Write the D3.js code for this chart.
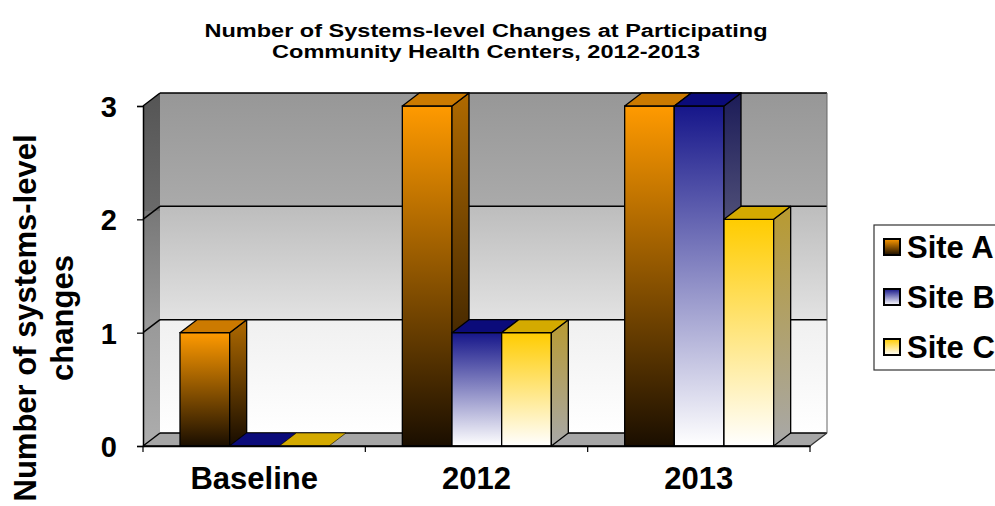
<!DOCTYPE html>
<html><head><meta charset="utf-8">
<script src="https://cdn.jsdelivr.net/npm/d3@7"></script>
<style>
body{margin:0;background:#fff;}
svg{display:block;font-family:"Liberation Sans",Arial,sans-serif;}
</style>
</head><body>
<svg id="chart" width="995" height="506"></svg>
<script>
const categories = ["Baseline", "2012", "2013"];
const seriesNames = ["Site A", "Site B", "Site C"];
const siteA = [1, 3, 3];
const siteB = [0, 1, 3];
const siteC = [0, 1, 2];
const yTicks = [0, 1, 2, 3];
const titleLines = ["Number of Systems-level Changes at Participating", "Community Health Centers, 2012-2013"];
const yTitleLines = ["Number of systems-level", "changes"];

const seriesValues = [siteA, siteB, siteC];
const styles = {
  "Site A": {frontTop: "#ff9a00", frontBot: "#1a0e00", sideTop: "#b06a00", sideBot: "#170c00", top: "#cc7a00"},
  "Site B": {frontTop: "#16168a", frontBot: "#ffffff", sideTop: "#1c1c58", sideBot: "#a8a8b0", top: "#0b0b7a"},
  "Site C": {frontTop: "#ffcc00", frontBot: "#ffffff", sideTop: "#b89a30", sideBot: "#a8a8a8", top: "#d4aa00"}
};

const svg = d3.select("#chart");
const DX = 17, DY = -13;
const x = d3.scaleBand().domain(categories).range([143, 810]);
const xs = d3.scaleBand().domain(seriesNames).range([37, 186]);
const y = d3.scaleLinear().domain([0, 3]).range([446, 106]);

const defs = svg.append("defs");
function vgrad(id, stops) {
  const g = defs.append("linearGradient").attr("id", id)
    .attr("x1", 0).attr("y1", 0).attr("x2", 0).attr("y2", 1);
  stops.forEach(s => g.append("stop").attr("offset", s[0]).attr("stop-color", s[1]));
}
vgrad("wall", [[0, "#979797"], [0.333, "#aaaaaa"], [0.334, "#bdbdbd"], [0.666, "#e2e2e2"], [0.667, "#f0f0f0"], [1, "#ffffff"]]);
vgrad("side", [[0, "#555555"], [0.333, "#6a6a6a"], [0.334, "#787878"], [0.666, "#9a9a9a"], [1, "#adadad"]]);
seriesNames.forEach((s, i) => {
  vgrad("front" + i, [[0, styles[s].frontTop], [1, styles[s].frontBot]]);
  vgrad("sidef" + i, [[0, styles[s].sideTop], [1, styles[s].sideBot]]);
});

const x0 = x.range()[0], x1 = x.range()[1];
const yTop = y(3), yBot = y(0);

// back wall
svg.append("rect").attr("x", x0 + DX).attr("y", yTop + DY)
  .attr("width", x1 - x0).attr("height", yBot - yTop).attr("fill", "url(#wall)");
// side wall
svg.append("polygon").attr("points", [[x0, yTop], [x0 + DX, yTop + DY], [x0 + DX, yBot + DY], [x0, yBot]].join(" "))
  .attr("fill", "url(#side)");
// floor
svg.append("polygon").attr("points", [[x0, yBot], [x1, yBot], [x1 + DX, yBot + DY], [x0 + DX, yBot + DY]].join(" "))
  .attr("fill", "#a6a6a6");

// gridlines
yTicks.forEach(v => {
  svg.append("line").attr("x1", x0 + DX).attr("x2", x1 + DX).attr("y1", y(v) + DY).attr("y2", y(v) + DY)
    .attr("stroke", "#000").attr("stroke-width", 1.5);
  svg.append("line").attr("x1", x0).attr("x2", x0 + DX).attr("y1", y(v)).attr("y2", y(v) + DY)
    .attr("stroke", "#000").attr("stroke-width", 1.5);
});
// right edge of wall & floor
svg.append("line").attr("x1", x1 + DX).attr("x2", x1 + DX).attr("y1", yTop + DY).attr("y2", yBot + DY)
  .attr("stroke", "#666").attr("stroke-width", 1);
svg.append("line").attr("x1", x1).attr("x2", x1 + DX).attr("y1", yBot).attr("y2", yBot + DY)
  .attr("stroke", "#333").attr("stroke-width", 1.2);

// axes
const yAxis = d3.axisLeft(y).tickValues(yTicks).tickSize(6).tickFormat(d3.format("d"));
const gy = svg.append("g").attr("transform", `translate(${x0},0)`).call(yAxis);
gy.select(".domain").attr("stroke", "#000").attr("stroke-width", 1.5);
gy.selectAll(".tick line").attr("stroke", "#000").attr("stroke-width", 1.2);
gy.selectAll(".tick text").attr("font-size", 29).attr("font-weight", "bold").attr("fill", "#000")
  .attr("x", -26).attr("dy", "0.36em").attr("font-family", "Liberation Sans, Arial, sans-serif");

const xAxis = d3.axisBottom(x).tickSize(0).tickSizeOuter(0);
const gx = svg.append("g").attr("transform", `translate(0,${yBot})`).call(xAxis);
gx.select(".domain").attr("stroke", "#000").attr("stroke-width", 1.5);
gx.selectAll(".tick text").attr("font-size", 31).attr("font-weight", "bold").attr("fill", "#000")
  .attr("y", 43).attr("dy", 0).attr("font-family", "Liberation Sans, Arial, sans-serif");
// category boundary ticks
const bounds = categories.map(c => x(c)).concat([x1]);
gx.selectAll(".bt").data(bounds).enter().append("line").attr("class", "bt")
  .attr("x1", d => d).attr("x2", d => d).attr("y1", 0).attr("y2", 6)
  .attr("stroke", "#000").attr("stroke-width", 1.2);

// bars
categories.forEach((c, ci) => {
  seriesNames.forEach((s, si) => {
    const v = seriesValues[si][ci];
    const bx = x(c) + xs(s), w = xs.bandwidth();
    const yt = y(v), yb = y(0);
    const g = svg.append("g");
    if (v > 0) {
      g.append("rect").attr("x", bx).attr("y", yt).attr("width", w).attr("height", yb - yt)
        .attr("fill", `url(#front${si})`).attr("stroke", "#000").attr("stroke-width", 1.3);
      g.append("polygon").attr("points", [[bx + w, yt], [bx + w + DX, yt + DY], [bx + w + DX, yb + DY], [bx + w, yb]].join(" "))
        .attr("fill", `url(#sidef${si})`).attr("stroke", "#000").attr("stroke-width", 1.3).attr("stroke-linejoin", "round");
    }
    g.append("polygon").attr("points", [[bx, yt], [bx + w, yt], [bx + w + DX, yt + DY], [bx + DX, yt + DY]].join(" "))
      .attr("fill", styles[s].top).attr("stroke", "#000").attr("stroke-width", v > 0 ? 1.3 : 0.6).attr("stroke-linejoin", "round");
  });
});
// redraw axis line on top
svg.append("line").attr("x1", x0).attr("x2", x1).attr("y1", yBot).attr("y2", yBot).attr("stroke", "#000").attr("stroke-width", 1.5);

// title (stretched horizontally as in the reference)
const titleWidths = [563, 428];
svg.append("g").selectAll("text").data(titleLines).enter().append("text")
  .attr("x", 486).attr("y", (d, i) => 37 + i * 21).attr("text-anchor", "middle")
  .attr("font-size", 18).attr("font-weight", "bold")
  .attr("textLength", (d, i) => titleWidths[i]).attr("lengthAdjust", "spacingAndGlyphs")
  .text(d => d);

// y title
const ytg = svg.append("g").attr("transform", "translate(0,318) rotate(-90)");
yTitleLines.forEach((t, i) => {
  ytg.append("text").attr("x", 0).attr("y", i === 0 ? 36 : 73).attr("text-anchor", "middle")
    .attr("font-size", 31).attr("font-weight", "bold").text(t);
});

// legend
const lg = svg.append("g");
lg.append("rect").attr("x", 874).attr("y", 225).attr("width", 140).attr("height", 145)
  .attr("fill", "#fff").attr("stroke", "#333").attr("stroke-width", 1.2);
seriesNames.forEach((s, i) => {
  const cy = 247 + i * 50;
  lg.append("rect").attr("x", 884).attr("y", cy - 8).attr("width", 16).attr("height", 16)
    .attr("fill", `url(#front${i})`).attr("stroke", "#000").attr("stroke-width", 2);
  lg.append("text").attr("x", 907).attr("y", cy + 11).attr("font-size", 31).attr("font-weight", "bold").text(s);
});
</script>
</body></html>
